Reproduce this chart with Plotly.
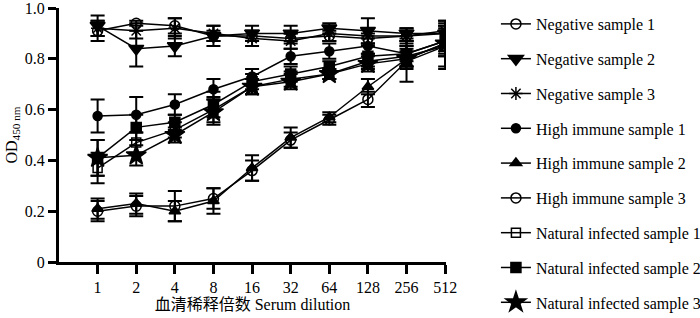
import plotly.graph_objects as go
import math

dilutions = [1, 2, 4, 8, 16, 32, 64, 128, 256, 512]
tick_labels = ["1", "2", "4", "8", "16", "32", "64", "128", "256", "512"]

names = ["Negative sample 1", "Negative sample 2", "Negative sample 3",
         "High immune sample 1", "High immune sample 2", "High immune sample 3",
         "Natural infected sample 1", "Natural infected sample 2", "Natural infected sample 3"]

neg1 = [0.91, 0.94, 0.93, 0.89, 0.89, 0.88, 0.89, 0.88, 0.89, 0.90]
neg2 = [0.93, 0.84, 0.85, 0.89, 0.90, 0.90, 0.92, 0.91, 0.90, 0.90]
neg3 = [0.92, 0.91, 0.92, 0.90, 0.88, 0.87, 0.90, 0.89, 0.89, 0.91]
hi1 = [0.575, 0.58, 0.62, 0.68, 0.73, 0.81, 0.83, 0.85, 0.82, 0.87]
hi2 = [0.21, 0.23, 0.20, 0.24, 0.37, 0.49, 0.57, 0.69, 0.80, 0.86]
hi3 = [0.20, 0.22, 0.22, 0.25, 0.36, 0.48, 0.56, 0.64, 0.79, 0.85]
ni1 = [0.37, 0.47, 0.52, 0.60, 0.69, 0.72, 0.74, 0.79, 0.81, 0.85]
ni2 = [0.41, 0.53, 0.55, 0.62, 0.71, 0.74, 0.77, 0.81, 0.82, 0.87]
ni3 = [0.41, 0.42, 0.50, 0.59, 0.69, 0.71, 0.74, 0.78, 0.80, 0.86]

err_neg1 = [0.04, 0.01, 0.03, 0.02, 0.02, 0.02, 0.02, 0.02, 0.02, 0.03]
err_neg2 = [0.04, 0.07, 0.04, 0.04, 0.03, 0.03, 0.02, 0.05, 0.02, 0.05]
err_neg3 = [0.03, 0.03, 0.04, 0.03, 0.03, 0.03, 0.03, 0.03, 0.03, 0.04]
err_hi1 = [0.065, 0.07, 0.04, 0.04, 0.03, 0.03, 0.03, 0.03, 0.03, 0.04]
err_hi2 = [0.04, 0.04, 0.04, 0.05, 0.05, 0.04, 0.02, 0.03, 0.03, 0.05]
err_hi3 = [0.04, 0.04, 0.06, 0.04, 0.04, 0.03, 0.02, 0.03, 0.08, 0.09]
err_ni1 = [0.06, 0.04, 0.03, 0.05, 0.03, 0.03, 0.02, 0.03, 0.04, 0.08]
err_ni2 = [0.07, 0.05, 0.03, 0.05, 0.03, 0.03, 0.02, 0.04, 0.05, 0.05]
err_ni3 = [0.07, 0.04, 0.03, 0.05, 0.03, 0.03, 0.02, 0.03, 0.04, 0.05]

series = [neg1, neg2, neg3, hi1, hi2, hi3, ni1, ni2, ni3]
errors = [err_neg1, err_neg2, err_neg3, err_hi1, err_hi2, err_hi3, err_ni1, err_ni2, err_ni3]
symbols = ["circle-open", "triangle-down", "asterisk-open", "circle", "triangle-up",
           "circle-open", "square-open", "square", "star"]
sizes = [10, 13, 11, 9, 10, 10, 9, 10, 15]

SERIF = "Liberation Serif"
CJK = "Liberation Serif, Noto Sans CJK SC"

fig = go.Figure()
for i, (nm, ys, es) in enumerate(zip(names, series, errors)):
    fig.add_trace(go.Scatter(
        x=dilutions, y=ys, name=nm, mode="lines+markers",
        legendgroup=f"g{i}",
        line=dict(color="black", width=1.5),
        marker=dict(symbol=symbols[i], size=sizes[i], color="black",
                    line=dict(color="black", width=1.5)),
        error_y=dict(type="data", array=es, visible=True, color="black",
                     thickness=2, width=7),
    ))

legend_cfg = dict(x=1.129, y=1.004, xanchor="left", yanchor="top",
                  font=dict(family=SERIF, size=16, color="black"),
                  tracegroupgap=11, itemwidth=30, bgcolor="rgba(0,0,0,0)")

fig.update_layout(
    width=700, height=318,
    margin=dict(l=59, r=254, t=8, b=56, autoexpand=False),
    paper_bgcolor="white", plot_bgcolor="white",
    font=dict(family=SERIF, size=16, color="black"),
    showlegend=True,
    xaxis=dict(type="log", range=[math.log10(0.5), math.log10(520)],
               tickvals=dilutions, ticktext=tick_labels,
               showline=True, linecolor="black", linewidth=3,
               ticks="outside", ticklen=9, tickwidth=3, tickcolor="black",
               showgrid=False, zeroline=False,
               tickfont=dict(family=SERIF, size=16, color="black"),
               title=dict(text="血清稀释倍数 Serum dilution", standoff=4,
                          font=dict(family=CJK, size=16, color="black"))),
    yaxis=dict(range=[0, 1.0], tickvals=[0, 0.2, 0.4, 0.6, 0.8, 1.0],
               ticktext=["0", "0.2", "0.4", "0.6", "0.8", "1.0"],
               showline=True, linecolor="black", linewidth=3,
               ticks="outside", ticklen=8, tickwidth=3, tickcolor="black",
               ticklabeloverflow="allow",
               showgrid=False, zeroline=False,
               tickfont=dict(family=SERIF, size=16, color="black"),
               title=dict(text="OD<sub>450 nm</sub>", standoff=4,
                          font=dict(family=SERIF, size=16, color="black"))),
)

try:
    fig.update_layout(legend=dict(legend_cfg, maxheight=318))
except Exception:
    fig.update_layout(legend=legend_cfg)

fig.write_html("out.html", config={"displayModeBar": False},
               post_script="document.body.style.margin='0';document.body.style.overflow='hidden';")
